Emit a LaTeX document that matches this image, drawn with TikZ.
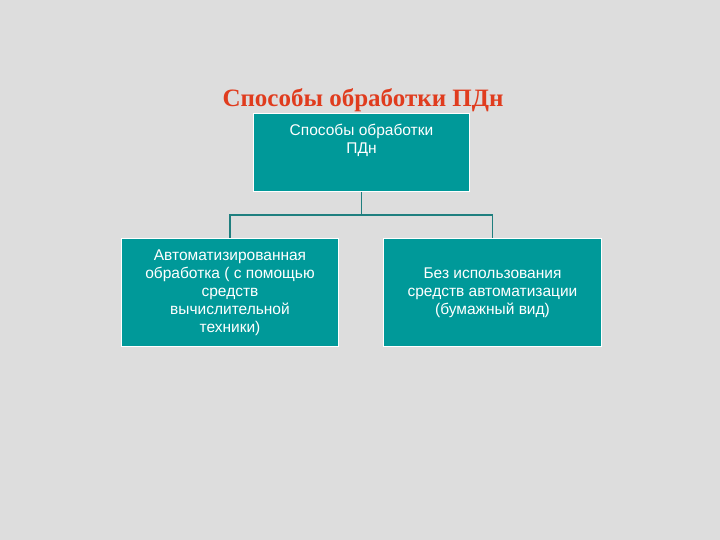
\documentclass[tikz,border=0pt]{standalone}
\usepackage{fontspec}
\setmainfont{Liberation Sans}
\newfontfamily\titlefont{Liberation Serif}
\definecolor{bg}{HTML}{DDDDDD}
\definecolor{teal1}{HTML}{009999}
\definecolor{lin}{HTML}{1F7F7F}
\definecolor{ttl}{HTML}{E03C1E}
\tikzset{box/.style={draw=white,line width=1.5pt,fill=teal1,text=white,align=center,font=\fontsize{15.5}{18}\selectfont,inner sep=0pt},
conn/.style={draw=lin,line width=1.5pt}}
\begin{document}
\begin{tikzpicture}[x=1pt,y=-1pt]
\fill[bg] (0,0) rectangle (720,540);
\useasboundingbox (0,0) rectangle (720,540);
\node[text=ttl,font=\titlefont\bfseries\fontsize{25}{28}\selectfont,anchor=center] (title) at (363,100) {Способы обработки ПДн};
\node[box,minimum width=216,minimum height=78] (top) at (361.5,152.5) {};
\node[text=white,align=center,font=\fontsize{15.5}{18}\selectfont] (toptxt) at (361.5,140) {Способы обработки\\ПДн};
\node[box,minimum width=217,minimum height=108] (l) at (230,292.5) {Автоматизированная\\обработка ( с помощью\\средств\\вычислительной\\техники)};
\node[box,minimum width=218,minimum height=108] (r) at (492.5,292.5) {Без использования\\средств автоматизации\\(бумажный вид)};
\coordinate (m) at (361.5,215);
\draw[conn] (top.south) -- (m);
\draw[conn] (l.north) |- (m) -| (r.north);
\end{tikzpicture}
\end{document}
